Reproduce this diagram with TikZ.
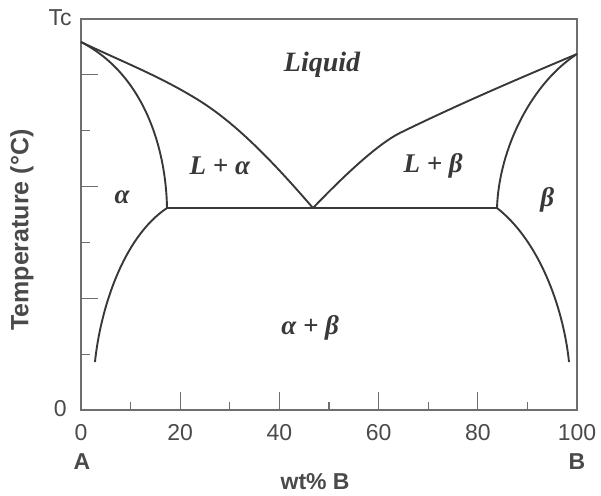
\documentclass[tikz,border=0pt]{standalone}
\usepackage{amsmath,amssymb}
\usepackage{fontspec}
\setmainfont{Liberation Serif}
\setsansfont{Liberation Sans}
\usetikzlibrary{positioning}
\definecolor{curveGray}{HTML}{383838}
\definecolor{axisGray}{HTML}{6E6E6E}
\definecolor{textGray}{HTML}{4A4A4A}

\begin{document}
\begin{tikzpicture}[x=4.96pt, y=55.86pt,
  phase/.style={line width=1.9pt, draw=curveGray, line join=round},
  frame/.style={line width=1.5pt, draw=axisGray},
  tickmark/.style={line width=1.2pt, draw=axisGray},
  region/.style={font=\bfseries\itshape\fontsize{27}{32}\selectfont, text=curveGray},
  ticklbl/.style={font=\sffamily\fontsize{23}{26}\selectfont, text=textGray},
  axlbl/.style={font=\sffamily\bfseries\fontsize{23}{26}\selectfont, text=textGray}]
\useasboundingbox (-81pt,-85pt) rectangle (520pt,410pt);
% frame and ticks
\draw[frame] (0,0) rectangle (100,7);
\foreach \k in {1,3,5} \draw[tickmark] (0,\k) -- ++(1.8,0);
\foreach \k in {2,4,6} \draw[tickmark] (0,\k) -- ++(3.4,0);
\foreach \x in {10,30,50,70,90} \draw[tickmark] (\x,0) -- ++(0,0.15);
\foreach \x in {20,40,60,80} \draw[tickmark] (\x,0) -- ++(0,0.32);
% melting points, eutectic
\coordinate (TA) at (0,6.588);
\coordinate (TB) at (100,6.373);
\coordinate (E) at (46.77,3.616);
\coordinate (Sa) at (17.34,3.616);
\coordinate (Sb) at (83.87,3.616);
% liquidus
\draw[phase] (TA) .. controls (8.06,6.244) and (15.93,5.979) .. (23.99,5.531)
  .. controls (31.65,5.102) and (39.11,4.404) .. (E);
\draw[phase] (E) .. controls (51.81,4.082) and (59.27,4.735) .. (64.31,4.960)
  .. controls (76.41,5.486) and (88.51,5.943) .. (TB);
% solidus
\draw[phase] (TA) .. controls (12.90,5.997) and (17.14,4.655) .. (Sa);
\draw[phase] (TB) .. controls (90.93,5.854) and (84.27,4.690) .. (Sb);
\draw[phase] (Sa) -- (Sb);
% solvus
\draw[phase] (Sa) .. controls (8.27,3.079) and (3.83,1.754) .. (2.82,0.859);
\draw[phase] (Sb) .. controls (92.14,3.043) and (97.18,1.880) .. (98.39,0.859);
% regions
\node[region, font=\bfseries\itshape\fontsize{28}{32}\selectfont] (liquid) at (48.6,6.18) {Liquid};
\node[region] (la) at (28.0,4.37) {L + α};
\node[region] (lb) at (71.0,4.37) {L + β};
\node[region] (alpha) at (8.27,3.81) {α};
\node[region] (beta) at (94.0,3.76) {β};
\node[region] (ab) at (46.2,1.47) {α + β};
% axes labels
\node[ticklbl] (tc) at (-4.2,7.02) {Tc};
\node[ticklbl] (zero) at (-4.2,0.02) {0};
\foreach \x in {0,20,...,100} \node[ticklbl] (x\x) at (\x,-0.41) {\x};
\node[axlbl] (A) at (0.2,-0.93) {A};
\node[axlbl] (B) at (100,-0.93) {B};
\node[axlbl] (xlbl) at (47.2,-1.29) {wt\% B};
\node[axlbl, font=\sffamily\bfseries\fontsize{25}{28}\selectfont, rotate=90] (ylbl) at (-11.9,3.22) {Temperature (°C)};
\end{tikzpicture}
\end{document}
